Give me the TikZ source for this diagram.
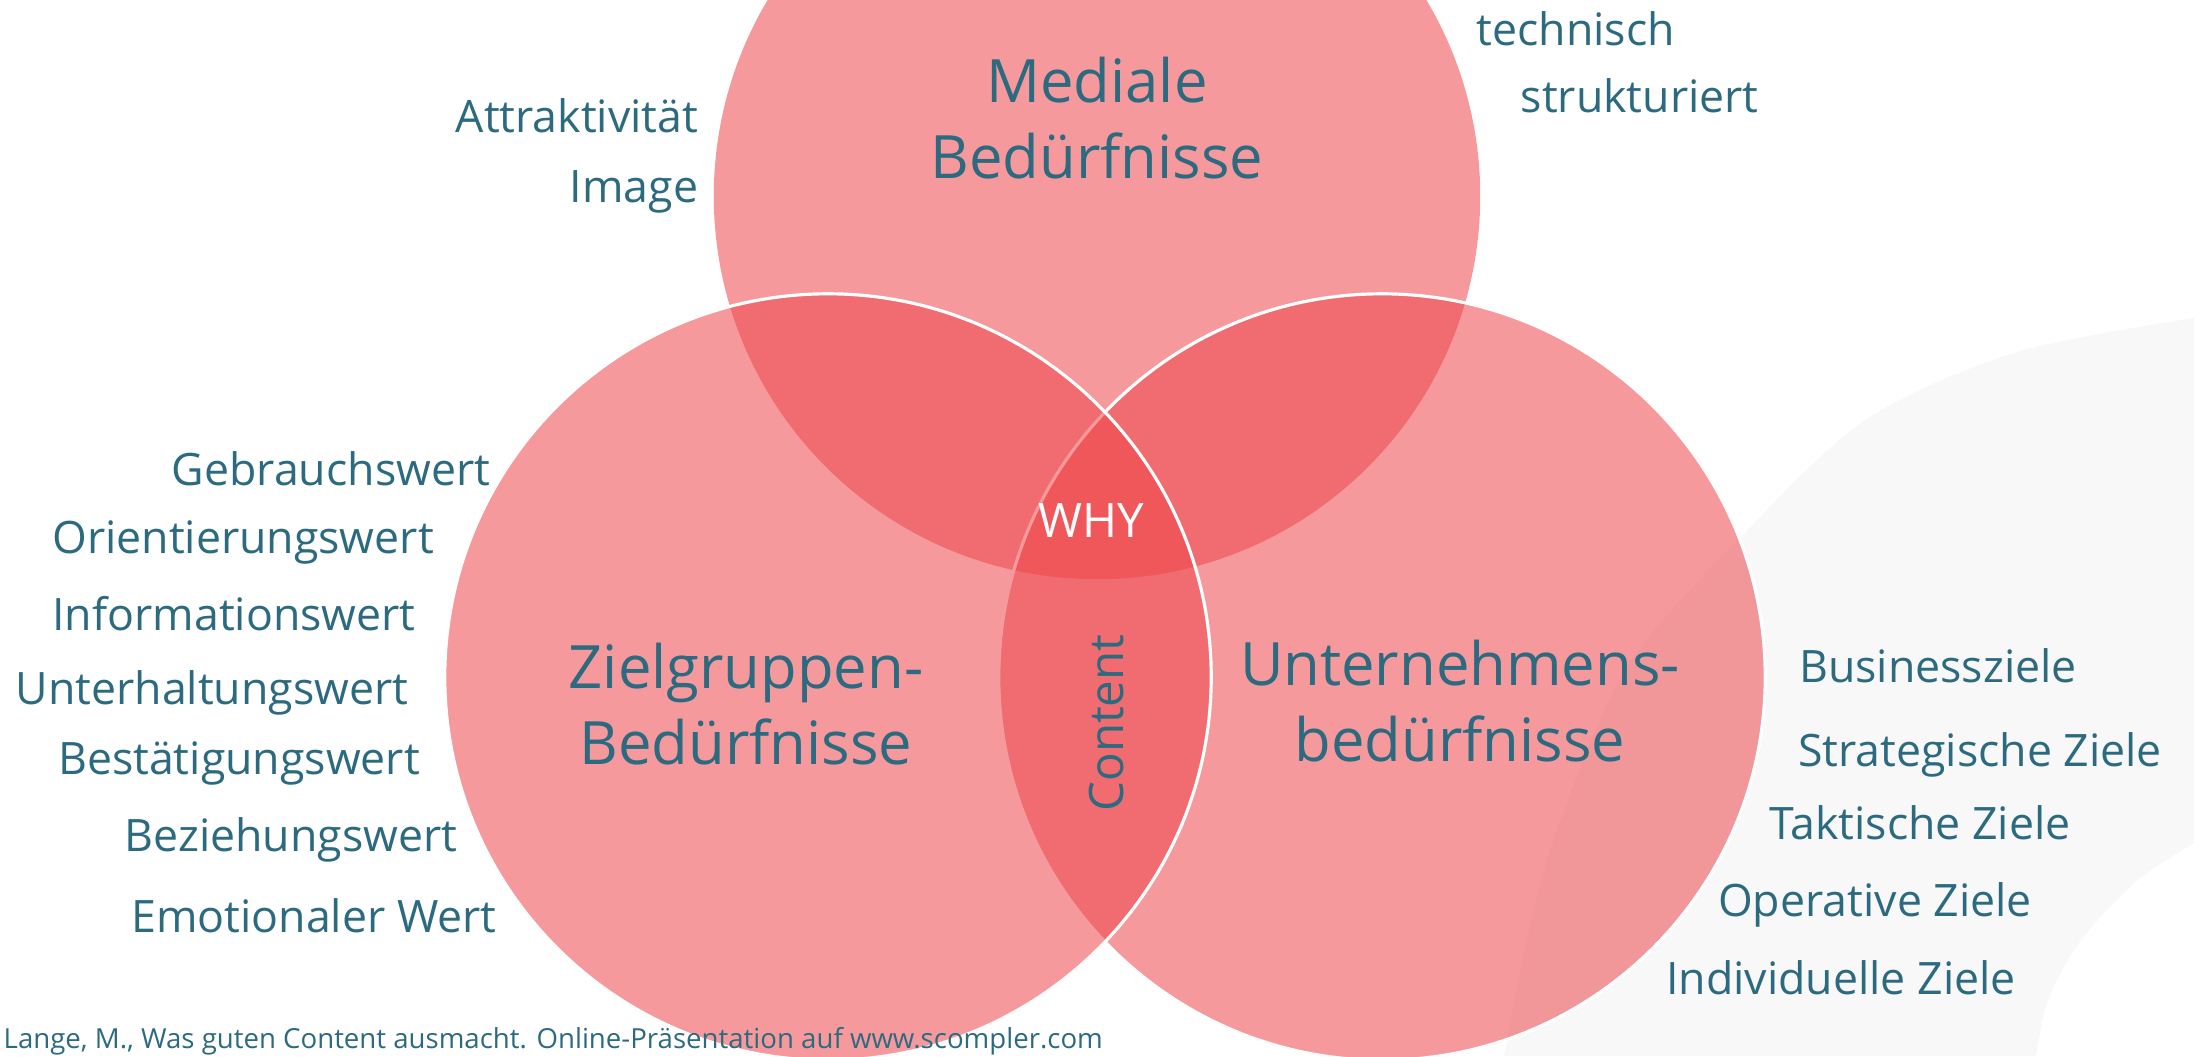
\documentclass[tikz,border=0pt]{standalone}
\usepackage{fontspec}
\setmainfont{Open Sans}
\usepackage{tikz}
\usetikzlibrary{positioning}
\definecolor{myrose}{RGB}{237,70,75}
\definecolor{myteal}{RGB}{44,106,128}
\definecolor{mybg}{RGB}{248,248,248}
\tikzset{
  venn/.style={fill=myrose, fill opacity=0.55},
  vennline/.style={venn, draw=white, draw opacity=1, line width=0.9pt},
  title/.style={font=\fontsize{17}{21.6}\selectfont, text=myteal,
    align=center, inner sep=0pt},
  lbl/.style={font=\fontsize{12.7}{15}\selectfont, text=myteal, inner sep=0pt},
  core/.style={font=\fontsize{13.5}{15}\selectfont, inner sep=0pt},
  cite/.style={font=\fontsize{7.85}{9}\selectfont, text=myteal, inner sep=0pt}
}

\begin{document}
\begin{tikzpicture}[x=0.01cm, y=-0.01cm]
  \useasboundingbox (0,0) rectangle (2194,1056);
  % Background swoosh
  \fill[mybg] plot[smooth] coordinates {(2194,318) (2017,352) (1865,420)
      (1740,538) (1624,672) (1545,867) (1504,1056)}
    -- plot[smooth] coordinates {(2036,1056) (2048,1000) (2081,940)
      (2138,880) (2194,843)}
    -- cycle;
  % Circle centres
  \coordinate (med) at (1097,196);
  \coordinate (ziel) at (828,677);
  \coordinate (untn) at (1382,677);
  % Circles
  \fill[venn] (med) circle[radius=3.83cm];
  \draw[vennline] (untn) circle[radius=3.83cm];
  \draw[vennline] (ziel) circle[radius=3.83cm];
  % Titles (base = last line)
  \node[title, anchor=base] (medT) at (1097,178) {Mediale\\Bedürfnisse};
  \node[title, anchor=base] (zielT) at (746,764) {Zielgruppen-\\Bedürfnisse};
  \node[title, anchor=base] (untnT) at (1460,761) {Unternehmens-\\bedürfnisse};
  % Centre
  \node[core, text=white, anchor=base] (why) at (1091,537) {WHY};
  \node[core, text=myteal, anchor=base, rotate=90] (cont) at (1123,723) {Content};
  % Mediale labels
  \node[lbl, anchor=base east] (attr) at (699,132) {Attraktivität};
  \node[lbl, anchor=base east] (img) at (699,202) {Image};
  \node[lbl, anchor=base west] (tech) at (1476,45) {technisch};
  \node[lbl, anchor=base west] (strk) at (1520,112) {strukturiert};
  % Zielgruppen labels
  \node[lbl, anchor=base] (w1) at (331,485) {Gebrauchswert};
  \node[lbl, anchor=base] (w2) at (243,553) {Orientierungswert};
  \node[lbl, anchor=base] (w3) at (234,630) {Informationswert};
  \node[lbl, anchor=base] (w4) at (212,704) {Unterhaltungswert};
  \node[lbl, anchor=base] (w5) at (239,774) {Bestätigungswert};
  \node[lbl, anchor=base] (w6) at (291,851) {Beziehungswert};
  \node[lbl, anchor=base] (w7) at (314,932) {Emotionaler Wert};
  % Unternehmens labels
  \node[lbl, anchor=base] (z1) at (1938,682) {Businessziele};
  \node[lbl, anchor=base] (z2) at (1980,766) {Strategische Ziele};
  \node[lbl, anchor=base] (z3) at (1920,839) {Taktische Ziele};
  \node[lbl, anchor=base] (z4) at (1875,916) {Operative Ziele};
  \node[lbl, anchor=base] (z5) at (1841,994) {Individuelle Ziele};
  % Source
  \node[cite, anchor=base west] (src) at (3,1048)
    {Lange, M., Was guten Content ausmacht. Online-Präsentation auf www.scompler.com};
\end{tikzpicture}
\end{document}
